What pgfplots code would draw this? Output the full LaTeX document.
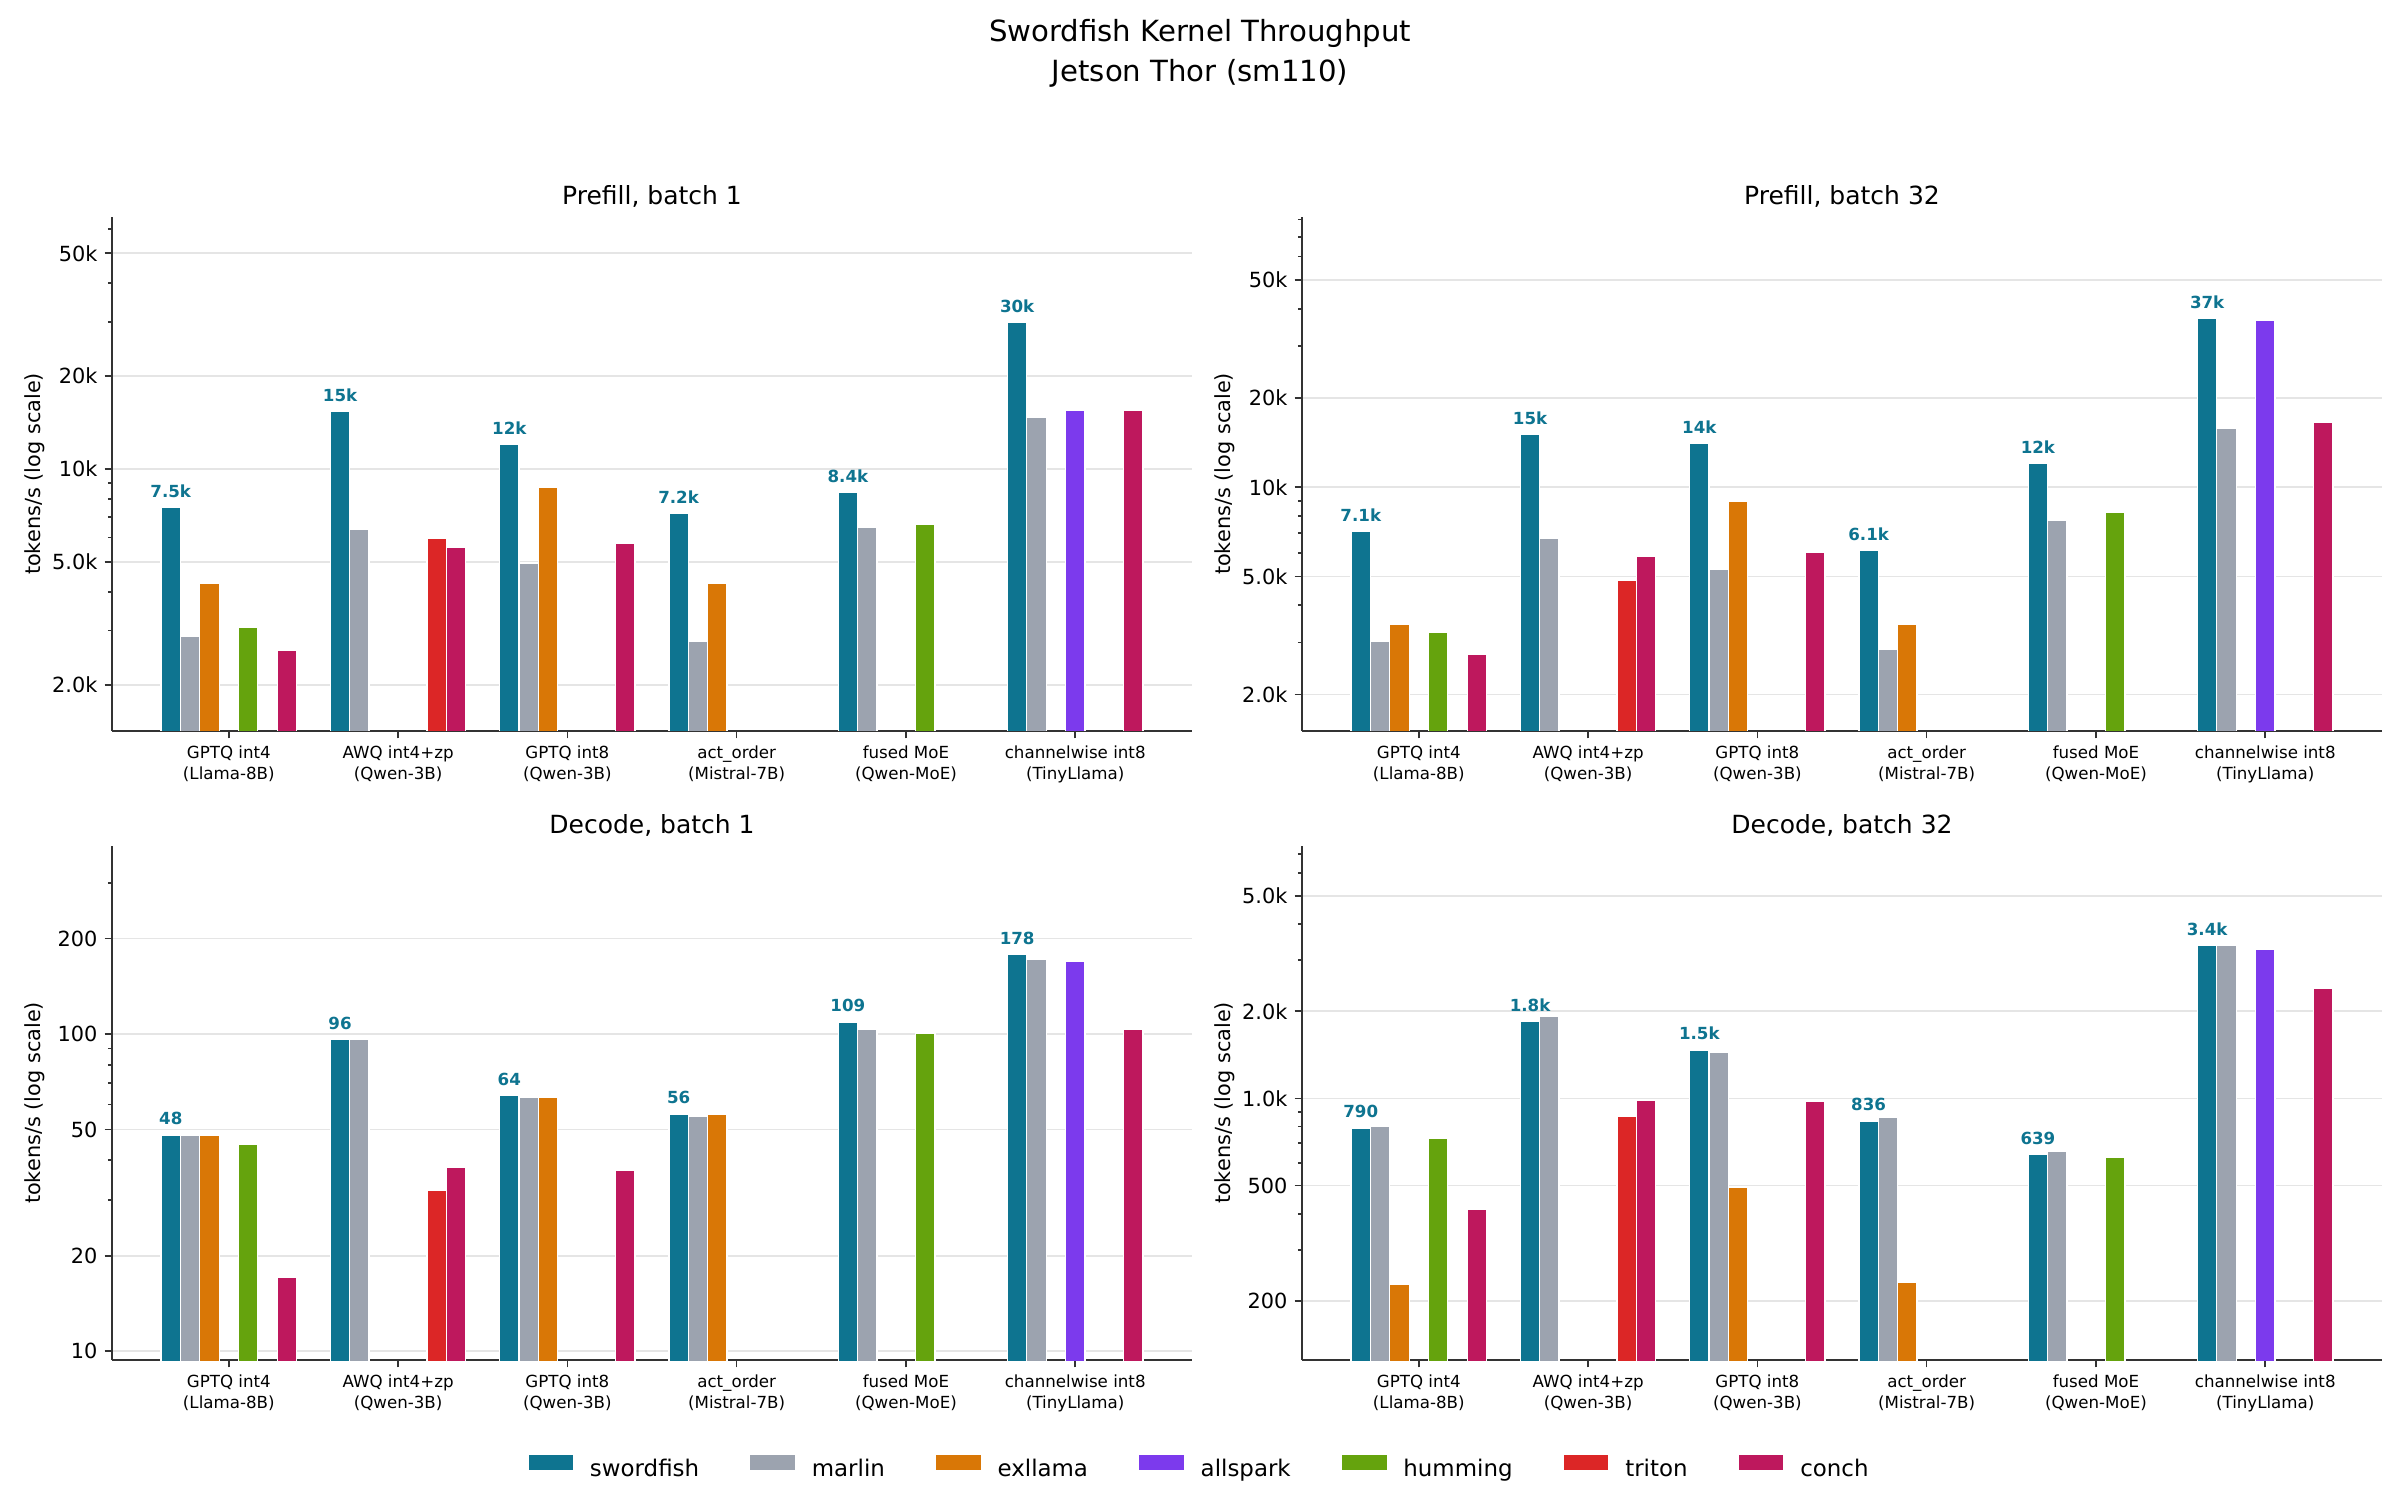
\documentclass[border=0pt]{standalone}
\usepackage{pgfplots}
\pgfplotsset{compat=1.18}
\usepackage{pgfplotstable}
\usepackage{fontspec}
\setmainfont{DejaVu Sans}

\definecolor{csw}{HTML}{0E7490}
\definecolor{cma}{HTML}{9CA3AF}
\definecolor{cex}{HTML}{D97706}
\definecolor{cal}{HTML}{7C3AED}
\definecolor{chu}{HTML}{65A30D}
\definecolor{ctr}{HTML}{DC2626}
\definecolor{cco}{HTML}{BE185D}

% Prefill, batch 1
\pgfplotstableread{
g sw ma ex al hu tr co lab
0 7500 2880 4280 nan 3080 nan 2580 7.5k
1 15400 6390 nan nan nan 5990 5600 15k
2 12000 4970 8760 nan nan nan 5760 12k
3 7200 2770 4280 nan nan nan nan 7.2k
4 8400 6500 nan nan 6600 nan nan 8.4k
5 29800 14760 nan 15500 nan nan 15500 30k
}\tpa
% Prefill, batch 32
\pgfplotstableread{
g sw ma ex al hu tr co lab
0 7120 3030 3450 nan 3230 nan 2740 7.1k
1 15100 6750 nan nan nan 4840 5870 15k
2 14100 5270 8980 nan nan nan 6050 14k
3 6120 2830 3450 nan nan nan nan 6.1k
4 12000 7750 nan nan 8240 nan nan 12k
5 37100 15800 nan 36600 nan nan 16500 37k
}\tpb
% Decode, batch 1
\pgfplotstableread{
g sw ma ex al hu tr co lab
0 48 48 48 nan 45 nan 17.06 48
1 96 96 nan nan nan 32.1 37.9 96
2 64 63 63 nan nan nan 37.1 64
3 56 54.9 56 nan nan nan nan 56
4 109 103.2 nan nan 100.3 nan nan 109
5 178 172.5 nan 169 nan nan 103.2 178
}\tpc
% Decode, batch 32
\pgfplotstableread{
g sw ma ex al hu tr co lab
0 790 800 227.5 nan 727.5 nan 414 790
1 1840 1925 nan nan nan 868 984 1.8k
2 1470 1446 492 nan nan nan 978 1.5k
3 836 860 232.6 nan nan nan nan 836
4 639 656 nan nan 625 nan nan 639
5 3380 3383 nan 3280 nan nan 2400 3.4k
}\tpd

\newcommand\mybars[1]{%
  \addplot[ybar, bar shift=0pt, draw=white, line width=0.6pt, fill=csw,
    nodes near coords, point meta=explicit symbolic,
    every node near coord/.append style={font=\fontsize{8}{9.6}\selectfont\bfseries, text=csw, anchor=south, inner sep=0pt, yshift=4.5pt}]
    table[x expr=\thisrow{g}-0.342857, y=sw, meta=lab] {#1};
  \addplot[ybar, bar shift=0pt, draw=white, line width=0.6pt, fill=cma] table[x expr=\thisrow{g}-0.228571, y=ma] {#1};
  \addplot[ybar, bar shift=0pt, draw=white, line width=0.6pt, fill=cex] table[x expr=\thisrow{g}-0.114286, y=ex] {#1};
  \addplot[ybar, bar shift=0pt, draw=white, line width=0.6pt, fill=cal] table[x expr=\thisrow{g}, y=al] {#1};
  \addplot[ybar, bar shift=0pt, draw=white, line width=0.6pt, fill=chu] table[x expr=\thisrow{g}+0.114286, y=hu] {#1};
  \addplot[ybar, bar shift=0pt, draw=white, line width=0.6pt, fill=ctr] table[x expr=\thisrow{g}+0.228571, y=tr] {#1};
  \addplot[ybar, bar shift=0pt, draw=white, line width=0.6pt, fill=cco] table[x expr=\thisrow{g}+0.342857, y=co] {#1};
}

\begin{document}
\begin{tikzpicture}
\path[use as bounding box] (0,0) rectangle (1152pt,-720pt);
\node[anchor=base, font=\fontsize{14}{16.8}\selectfont] at (576pt,-19.97pt) {Swordfish Kernel Throughput};
\node[anchor=base, font=\fontsize{14}{16.8}\selectfont] at (576pt,-39.17pt) {Jetson Thor (sm110)};

\begin{axis}[ymode=log, at={(53.76pt,-104.16pt)}, anchor=north west,
  scale only axis, width=518.4pt, height=246.72pt,
  xmin=-0.69, xmax=5.69, bar width=0.114286,
  xtick={0,1,2,3,4,5},
  xticklabels={{GPTQ int4\\(Llama-8B)},{AWQ int4+zp\\(Qwen-3B)},{GPTQ int8\\(Qwen-3B)},{act\_order\\(Mistral-7B)},{fused MoE\\(Qwen-MoE)},{channelwise int8\\(TinyLlama)}},
  x tick label style={font=\fontsize{8}{10}\selectfont, align=center},
  y tick label style={font=\fontsize{10}{12}\selectfont},
  axis x line*=bottom, axis y line*=left,
  axis line style={-, line width=0.8pt, color=black!80},
  tick align=outside, major tick length=3.5pt, minor tick length=2pt,
  tick style={line width=0.8pt, color=black!80},
  ymajorgrids, major grid style={line width=0.8pt, color=black!10},
  ylabel={tokens/s (log scale)},
  ylabel style={font=\fontsize{10}{12}\selectfont, at={(axis description cs:-0.0715,0.5)}, anchor=center},
  title style={font=\fontsize{12}{14.4}\selectfont, at={(axis description cs:0.5,1)}, anchor=base},
  title={Prefill, batch 1},
  ymin=1419, ymax=65560,
  ytick={2000,5000,10000,20000,50000}, yticklabels={2.0k,5.0k,10k,20k,50k},
  minor ytick={3000,4000,6000,7000,8000,9000,30000,40000,60000}]
\mybars{\tpa}
\end{axis}

\begin{axis}[ymode=log, at={(624.96pt,-104.16pt)}, anchor=north west,
  scale only axis, width=518.4pt, height=246.72pt,
  xmin=-0.69, xmax=5.69, bar width=0.114286,
  xtick={0,1,2,3,4,5},
  xticklabels={{GPTQ int4\\(Llama-8B)},{AWQ int4+zp\\(Qwen-3B)},{GPTQ int8\\(Qwen-3B)},{act\_order\\(Mistral-7B)},{fused MoE\\(Qwen-MoE)},{channelwise int8\\(TinyLlama)}},
  x tick label style={font=\fontsize{8}{10}\selectfont, align=center},
  y tick label style={font=\fontsize{10}{12}\selectfont},
  axis x line*=bottom, axis y line*=left,
  axis line style={-, line width=0.8pt, color=black!80},
  tick align=outside, major tick length=3.5pt, minor tick length=2pt,
  tick style={line width=0.8pt, color=black!80},
  ymajorgrids, major grid style={line width=0.8pt, color=black!10},
  ylabel={tokens/s (log scale)},
  ylabel style={font=\fontsize{10}{12}\selectfont, at={(axis description cs:-0.0715,0.5)}, anchor=center},
  title style={font=\fontsize{12}{14.4}\selectfont, at={(axis description cs:0.5,1)}, anchor=base},
  title={Prefill, batch 32},
  ymin=1507, ymax=81620,
  ytick={2000,5000,10000,20000,50000}, yticklabels={2.0k,5.0k,10k,20k,50k},
  minor ytick={3000,4000,6000,7000,8000,9000,30000,40000,60000,70000,80000}]
\mybars{\tpb}
\end{axis}

\begin{axis}[ymode=log, at={(53.76pt,-406.08pt)}, anchor=north west,
  scale only axis, width=518.4pt, height=246.72pt,
  xmin=-0.69, xmax=5.69, bar width=0.114286,
  xtick={0,1,2,3,4,5},
  xticklabels={{GPTQ int4\\(Llama-8B)},{AWQ int4+zp\\(Qwen-3B)},{GPTQ int8\\(Qwen-3B)},{act\_order\\(Mistral-7B)},{fused MoE\\(Qwen-MoE)},{channelwise int8\\(TinyLlama)}},
  x tick label style={font=\fontsize{8}{10}\selectfont, align=center},
  y tick label style={font=\fontsize{10}{12}\selectfont},
  axis x line*=bottom, axis y line*=left,
  axis line style={-, line width=0.8pt, color=black!80},
  tick align=outside, major tick length=3.5pt, minor tick length=2pt,
  tick style={line width=0.8pt, color=black!80},
  ymajorgrids, major grid style={line width=0.8pt, color=black!10},
  ylabel={tokens/s (log scale)},
  ylabel style={font=\fontsize{10}{12}\selectfont, at={(axis description cs:-0.0715,0.5)}, anchor=center},
  title style={font=\fontsize{12}{14.4}\selectfont, at={(axis description cs:0.5,1)}, anchor=base},
  title={Decode, batch 1},
  ymin=9.38, ymax=391.6,
  ytick={10,20,50,100,200}, yticklabels={10,20,50,100,200},
  minor ytick={30,40,60,70,80,90,300},
  legend columns=7,
  legend image code/.code={\fill[#1] (0pt,-0.2pt) rectangle (22pt,7.4pt);},
  legend style={at={(axis description cs:1.0074,-0.212)}, anchor=center, draw=none,
    font=\fontsize{11}{13.2}\selectfont,
    /tikz/every odd column/.append style={column sep=5.5pt},
    /tikz/every even column/.append style={column sep=22pt}}]
\mybars{\tpc}
\legend{swordfish,marlin,exllama,allspark,humming,triton,conch}
\end{axis}

\begin{axis}[ymode=log, at={(624.96pt,-406.08pt)}, anchor=north west,
  scale only axis, width=518.4pt, height=246.72pt,
  xmin=-0.69, xmax=5.69, bar width=0.114286,
  xtick={0,1,2,3,4,5},
  xticklabels={{GPTQ int4\\(Llama-8B)},{AWQ int4+zp\\(Qwen-3B)},{GPTQ int8\\(Qwen-3B)},{act\_order\\(Mistral-7B)},{fused MoE\\(Qwen-MoE)},{channelwise int8\\(TinyLlama)}},
  x tick label style={font=\fontsize{8}{10}\selectfont, align=center},
  y tick label style={font=\fontsize{10}{12}\selectfont},
  axis x line*=bottom, axis y line*=left,
  axis line style={-, line width=0.8pt, color=black!80},
  tick align=outside, major tick length=3.5pt, minor tick length=2pt,
  tick style={line width=0.8pt, color=black!80},
  ymajorgrids, major grid style={line width=0.8pt, color=black!10},
  ylabel={tokens/s (log scale)},
  ylabel style={font=\fontsize{10}{12}\selectfont, at={(axis description cs:-0.0715,0.5)}, anchor=center},
  title style={font=\fontsize{12}{14.4}\selectfont, at={(axis description cs:0.5,1)}, anchor=base},
  title={Decode, batch 32},
  ymin=125, ymax=7443,
  ytick={200,500,1000,2000,5000}, yticklabels={200,500,1.0k,2.0k,5.0k},
  minor ytick={300,400,600,700,800,900,3000,4000,6000,7000}]
\mybars{\tpd}
\end{axis}
\end{tikzpicture}
\end{document}
